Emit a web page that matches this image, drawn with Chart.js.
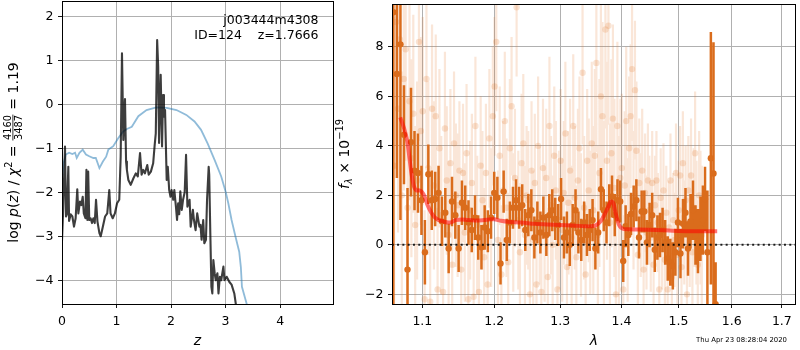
<!DOCTYPE html>
<html><head><meta charset="utf-8">
<script src="https://cdn.jsdelivr.net/npm/chart.js@4.4.0/dist/chart.umd.min.js"></script>
<style>
html,body{margin:0;padding:0;background:#fff;}
#wrap{position:relative;width:800px;height:350px;overflow:hidden;}
#c1{position:absolute;left:0;top:0;}
#c2{position:absolute;left:330px;top:0;}
</style></head><body>
<div id="wrap"><canvas id="c1" width="340" height="350"></canvas><canvas id="c2" width="470" height="350"></canvas></div>
<script>
// ---------------- LEFT PANEL DATA ----------------
const pzZ = [0.00,0.02,0.055,0.073,0.09,0.116,0.13,0.16,0.19,0.22,0.25,0.28,0.30,0.33,0.355,0.38,0.40,0.43,0.448,0.465,0.48,0.50,0.525,0.55,0.575,0.60,0.624,0.65,0.686,0.71,0.75,0.79,0.83,0.867,0.89,0.93,0.97,1.01,1.05,1.076,1.10,1.125,1.155,1.175,1.19,1.217,1.26,1.31,1.353,1.39,1.431,1.46,1.49,1.52,1.564,1.59,1.63,1.672,1.70,1.72,1.745,1.764,1.78,1.81,1.835,1.853,1.87,1.89,1.92,1.94,1.966,1.99,2.01,2.04,2.06,2.09,2.11,2.13,2.15,2.17,2.196,2.22,2.25,2.275,2.30,2.34,2.36,2.40,2.42,2.45,2.48,2.52,2.54,2.56,2.59,2.61,2.64,2.66,2.69,2.70,2.72,2.74,2.757,2.776,2.80,2.82,2.85,2.87,2.895,2.92,2.96,2.98,3.02,3.07,3.11,3.16,3.19,3.23];
const pzLogP = [-3.10,-2.45,-0.96,-2.55,-2.50,-1.42,-2.65,-2.50,-2.55,-2.78,-2.59,-1.93,-2.48,-2.21,-2.29,-2.10,-2.48,-2.59,-1.49,-2.63,-1.53,-2.63,-2.59,-2.70,-2.59,-2.70,-2.17,-2.66,-2.93,-3.00,-2.78,-2.55,-2.48,-1.95,-2.48,-2.59,-2.48,-2.25,-2.17,-1.19,1.16,-0.81,0.12,-1.30,-1.49,-1.72,-1.83,-1.68,-1.57,-1.64,-1.11,-1.60,-1.49,-1.57,-1.38,-1.60,-1.53,-1.34,-0.92,-0.66,1.46,0.86,-0.88,0.67,-0.96,0.21,-0.28,-0.13,-1.72,-1.42,-1.95,-2.10,-1.95,-2.17,-1.95,-2.33,-2.63,-2.25,-2.50,-1.98,-2.40,-2.17,-2.00,-1.15,-2.33,-2.17,-2.78,-2.40,-2.63,-2.86,-2.48,-2.78,-2.74,-3.08,-2.63,-3.16,-3.08,-2.17,-1.42,-1.60,-2.93,-4.15,-4.30,-3.54,-3.84,-4.00,-3.84,-4.30,-3.92,-4.00,-3.69,-4.00,-3.92,-4.04,-4.10,-4.30,-4.56,-4.75];
const chiZ = [0.00,0.01,0.03,0.07,0.13,0.19,0.24,0.27,0.32,0.38,0.44,0.50,0.575,0.62,0.686,0.75,0.81,0.85,0.94,1.03,1.12,1.19,1.28,1.40,1.55,1.73,1.92,2.10,2.28,2.43,2.55,2.67,2.80,2.92,3.00,3.05,3.11,3.18,3.25,3.28,3.30,3.39,3.42];
const chiLogP = [-1.60,-1.57,-1.34,-1.14,-1.10,-1.13,-1.10,-1.22,-1.10,-1.03,-1.14,-1.18,-1.22,-1.22,-1.45,-1.30,-1.19,-1.03,-0.95,-0.77,-0.62,-0.56,-0.51,-0.27,-0.13,-0.07,-0.08,-0.13,-0.24,-0.39,-0.58,-0.89,-1.27,-1.64,-1.98,-2.25,-2.63,-3.00,-3.35,-3.70,-4.15,-4.55,-4.70];
const leftXTicks = [0,1,2,3,4];
const leftYTicks = [-4,-3,-2,-1,0,1,2];

// ---------------- RIGHT PANEL DATA ----------------
const darkLam = [1.0620,1.0666,1.0712,1.0758,1.0804,1.0850,1.0896,1.0942,1.0988,1.1034,1.1080,1.1126,1.1172,1.1218,1.1264,1.1310,1.1356,1.1402,1.1448,1.1494,1.1540,1.1586,1.1632,1.1678,1.1724,1.1770,1.1816,1.1862,1.1908,1.1954,1.2000,1.2046,1.2092,1.2138,1.2184,1.2230,1.2276,1.2322,1.2368,1.2414,1.2460,1.2506,1.2552,1.2598,1.2644,1.2690,1.2736,1.2782,1.2828,1.2874,1.2920,1.2966,1.3012,1.3058,1.3104,1.3150,1.3196,1.3242,1.3288,1.3334,1.3380,1.3426,1.3472,1.3518,1.3564,1.3610,1.3656,1.3702,1.3748,1.3794,1.3840,1.3886,1.3932,1.3978,1.4029,1.4070,1.4116,1.4162,1.4208,1.4254,1.4300,1.4346,1.4392,1.4438,1.4484,1.4530,1.4576,1.4622,1.4668,1.4714,1.4760,1.4806,1.4852,1.4898,1.4944,1.4990,1.5036,1.5082,1.5128,1.5174,1.5220,1.5266,1.5312,1.5358,1.5404,1.5450,1.5490,1.5535,1.5600,1.5650,1.5690];
const darkFlux = [9.4,6.9,8.1,4.45,-1.0,4.15,3.0,2.9,1.8,-0.3,2.85,1.8,1.85,2.1,0.95,1.3,-0.15,1.75,1.2,-0.15,1.7,1.5,0.9,0.6,1.1,0.3,-0.1,0.7,0.55,1.1,2.1,1.9,-0.75,2.15,0.2,0.9,1.5,1.8,1.5,1.6,0.6,1.2,1.4,0.3,0.9,0.5,1.1,0.4,1.2,1.4,1.05,0.8,1.85,0.3,0.5,0.0,0.8,1.4,0.5,0.2,0.9,0.4,0.6,1.0,-0.15,0.5,2.25,1.4,0.9,1.6,1.95,1.2,1.8,1.75,-0.65,0.75,0.4,1.25,1.55,1.8,0.3,1.35,1.35,0.1,0.8,1.2,-0.2,0.3,0.4,0.6,0.1,-0.55,-0.7,-0.85,-0.3,0.9,-0.35,0.85,1.3,-0.15,0.95,1.4,0.4,0.15,0.65,1.0,1.85,-0.3,3.5,2.88,-2.4];
const darkErr = [12,4.2,7.1,2.0,3.3,2.2,1.6,1.6,1.4,1.3,1.2,1.2,1.1,1.1,1.0,1.0,1.0,1.0,0.95,0.95,0.9,0.9,0.9,0.9,0.9,0.9,0.9,0.9,0.85,0.85,0.85,0.85,0.85,0.85,0.85,0.85,0.85,0.85,0.85,0.85,0.85,0.85,0.85,0.85,0.85,0.85,0.85,0.85,0.85,0.85,0.85,0.85,0.85,0.85,0.85,0.85,0.85,0.85,0.85,0.85,0.85,0.85,0.85,0.85,0.85,0.85,0.85,0.85,0.85,0.85,0.85,0.85,0.85,0.85,0.85,0.85,0.85,0.85,0.85,0.85,0.85,0.85,0.85,0.9,0.9,0.9,0.9,0.9,0.9,0.9,0.9,0.9,0.95,0.95,0.95,1.0,1.0,1.0,1.0,1.1,1.1,1.2,1.2,1.3,1.3,1.4,1.3,2.5,5.1,5.3,1.7];

const faintLam = [1.0630,1.0655,1.0680,1.0705,1.0730,1.0755,1.0780,1.0805,1.0830,1.0855,1.0880,1.0905,1.0930,1.0955,1.0980,
1.1005,1.1030,1.1055,1.1080,1.1105,1.1130,1.1155,1.1180,1.1205,1.1230,1.1255,1.1280,1.1305,1.1330,1.1355,1.1380,1.1405,1.1430,1.1455,1.1480,
1.1505,1.1530,1.1555,1.1580,1.1605,1.1630,1.1655,1.1680,1.1705,1.1730,1.1755,1.1780,1.1805,1.1830,1.1855,1.1880,1.1905,1.1930,1.1955,1.1980,
1.2005,1.2030,1.2055,1.2080,1.2105,1.2130,1.2155,1.2180,1.2205,1.2230,1.2255,1.2280,1.2305,1.2330,1.2355,1.2380,1.2405,1.2430,1.2455,1.2480,
1.2505,1.2530,1.2555,1.2580,1.2605,1.2630,1.2655,1.2680,1.2705,1.2730,1.2755,1.2780,1.2805,1.2830,1.2855,1.2880,1.2905,1.2930,1.2955,1.2980,
1.3005,1.3030,1.3055,1.3080,1.3105,1.3130,1.3155,1.3180,1.3205,1.3230,1.3255,1.3280,1.3305,1.3330,1.3355,1.3380,1.3405,1.3430,1.3455,1.3480,
1.3505,1.3530,1.3555,1.3580,1.3605,1.3630,1.3655,1.3680,1.3705,1.3730,1.3755,1.3780,1.3805,1.3830,1.3855,1.3880,1.3905,1.3930,1.3955,1.3980,
1.4005,1.4030,1.4055,1.4080,1.4105,1.4130,1.4155,1.4180,1.4205,1.4230,1.4255,1.4280,1.4305,1.4330,1.4355,1.4380,1.4405,1.4430,1.4455,1.4480,
1.4505,1.4530,1.4555,1.4580,1.4605,1.4630,1.4655,1.4680,1.4705,1.4730,1.4755,1.4780,1.4805,1.4830,1.4855,1.4880,1.4905,1.4930,1.4955,1.4980,
1.5005,1.5030,1.5055,1.5080,1.5105,1.5130,1.5155,1.5180,1.5205,1.5230,1.5255,1.5280,1.5305,1.5330,1.5355,1.5380,1.5405,1.5430];
const faintFlux = [3.2,9.0,5.5,8.3,2.0,6.7,7.9,1.5,5.8,3.5,5.3,0.8,2.6,8.2,4.6,
5.4,-2.2,6.7,3.1,-2.3,5.5,2.4,5.2,-1.8,3.9,1.2,-1.9,4.7,2.6,0.4,3.3,-0.8,4.1,2.0,1.6,
3.0,-1.0,2.9,0.5,3.7,-2.2,1.4,2.5,-2.1,4.8,0.8,-1.9,3.2,1.8,-0.5,2.9,-1.6,4.3,1.1,5.2,
6.4,8.2,0.2,3.6,-1.2,2.2,5.0,1.5,-0.7,3.9,5.6,0.9,2.7,9.6,1.0,-0.3,3.3,4.1,0.4,2.0,
1.8,-2.0,3.0,0.2,2.5,-1.6,4.0,1.2,-1.9,3.1,0.5,2.7,-1.3,4.8,1.6,0.0,3.6,2.2,-1.8,1.0,
3.4,0.6,2.1,4.5,-0.9,1.7,3.0,0.3,4.8,1.9,-0.5,2.6,3.9,0.8,6.95,1.5,-1.2,3.4,2.2,0.9,
4.1,1.4,3.6,7.35,0.4,2.9,6.0,5.2,1.2,8.7,3.4,8.85,0.9,3.7,5.1,2.3,-2.0,4.8,1.0,2.7,
3.1,-1.8,2.4,5.0,0.6,3.9,5.2,7.1,1.8,6.25,3.8,-0.4,2.5,1.2,3.0,-1.0,2.1,0.5,2.6,1.4,
0.3,2.5,-0.8,1.6,2.6,0.9,-1.8,1.9,0.1,2.2,-0.6,1.3,-1.8,0.7,2.6,-1.3,1.0,0.2,2.9,-0.4,
1.4,2.8,-0.9,3.3,0.5,1.8,-2.0,2.2,0.6,2.8,-0.3,1.5,3.7,0.9,-0.8,2.0,1.1,0.4];
const faintErr = [6,5,5,5,5,4.5,4.5,4.5,4,4,4,4,4,4,3.8,
3.8,3.6,3.6,3.5,3.5,3.4,3.4,3.3,3.3,3.2,3.2,3.1,3.1,3.0,3.0,3.0,2.9,2.9,2.9,2.9,
2.8,2.8,2.8,2.8,2.8,2.8,2.8,2.8,2.8,2.8,2.8,2.8,2.8,2.8,2.8,2.8,2.8,2.8,2.8,2.8,
2.8,2.8,2.8,2.8,2.8,2.8,2.8,2.8,2.8,2.8,2.8,2.8,2.8,2.8,2.8,2.8,2.8,2.8,2.8,2.8,
2.8,2.8,2.8,2.8,2.8,2.8,2.8,2.8,2.8,2.8,2.8,2.8,2.8,2.8,2.8,2.8,2.8,2.8,2.8,2.8,
2.9,2.9,2.9,2.9,2.9,2.9,2.9,2.9,2.9,2.9,2.9,2.9,2.9,2.9,2.9,2.9,2.9,2.9,2.9,2.9,
3.3,3.4,3.5,3.6,3.6,3.8,3.8,3.8,3.8,4.0,4.0,4.0,4.0,3.8,3.8,3.6,3.6,3.4,3.4,3.2,
3.0,3.0,3.0,3.0,2.9,2.9,2.9,2.9,2.8,2.8,2.8,2.6,2.6,2.5,2.5,2.4,2.4,2.3,2.3,2.2,
2.2,2.1,2.1,2.0,2.0,2.0,2.0,2.0,1.9,1.9,1.9,1.9,1.9,1.9,1.9,1.9,1.9,1.9,2.0,2.0,
2.0,2.0,2.1,2.1,2.1,2.2,2.2,2.2,2.3,2.3,2.4,2.4,2.5,2.5,2.6,2.6,2.7,2.8];

const modelLam = [1.071,1.076,1.080,1.083,1.086,1.089,1.092,1.096,1.099,1.103,1.107,1.112,1.117,1.122,1.128,1.135,1.140,1.145,1.155,1.165,1.175,1.185,1.195,1.200,1.210,1.220,1.240,1.260,1.280,1.300,1.320,1.340,1.350,1.358,1.365,1.372,1.378,1.382,1.386,1.389,1.393,1.397,1.402,1.410,1.430,1.460,1.490,1.520,1.550,1.572];
const modelFlux = [5.15,4.7,4.2,3.5,2.8,2.35,2.2,2.2,2.15,1.95,1.6,1.3,1.1,1.0,0.95,0.9,0.92,1.0,1.02,1.0,0.98,1.0,1.03,1.03,0.97,0.93,0.9,0.85,0.82,0.8,0.78,0.75,0.75,0.8,0.95,1.25,1.55,1.75,1.7,1.4,1.0,0.75,0.65,0.63,0.62,0.6,0.57,0.55,0.55,0.55];
const zeroLam = [1.06,1.73];
const zeroFlux = [0,0];
const rightXTicks = [1.1,1.2,1.3,1.4,1.5,1.6,1.7];
const rightYTicks = [-2,0,2,4,6,8];

// ---------------- helpers ----------------
const FONT = 'DejaVu Sans';
const fmt = v => { const s = (Math.abs(v) < 1e-9 ? '0' : String(+v.toFixed(2))); return s.replace('-', '\u2212'); };
const pts = (xs, ys) => xs.map((x, i) => ({x: x, y: ys[i]}));
const errSegs = (xs, ys, es) => { const out = []; xs.forEach((x, i) => { out.push({x: x, y: ys[i] - es[i]}); out.push({x: x, y: ys[i] + es[i]}); out.push({x: x, y: null}); }); return out; };

function drawRuns(ctx, runs, x, y, angle) {
  ctx.save();
  ctx.translate(x, y); ctx.rotate(angle);
  let total = 0;
  runs.forEach(r => { ctx.font = r.font; r.w = r.frac ? Math.max(ctx.measureText(r.num).width, ctx.measureText(r.den).width) + 2 : ctx.measureText(r.t).width; total += r.w; });
  let cx = -total / 2;
  ctx.textBaseline = 'alphabetic'; ctx.fillStyle = '#000';
  runs.forEach(r => {
    ctx.font = r.font;
    if (r.frac) {
      ctx.textAlign = 'center';
      ctx.fillText(r.num, cx + r.w / 2, r.barY - 1.6);
      ctx.fillText(r.den, cx + r.w / 2, r.barY + 1.6 + r.cap);
      ctx.fillRect(cx + 0.5, r.barY - 0.4, r.w - 1, 0.8);
    } else {
      ctx.textAlign = 'left';
      ctx.fillText(r.t, cx, r.dy || 0);
    }
    cx += r.w;
  });
  ctx.restore();
}

function frameAndTicksScale(ticksArr, min, max, type, isX, fixedSize) {
  return {
    type: type, min: min, max: max, bounds: 'data',
    afterBuildTicks: s => { s.ticks = ticksArr.map(v => ({value: v})); },
    afterFit: s => { if (isX) s.height = fixedSize; else s.width = fixedSize; s.paddingTop = 0; s.paddingBottom = 0; s.paddingLeft = 0; s.paddingRight = 0; },
    grid: {color: '#b0b0b0', lineWidth: 1, tickColor: '#000', tickLength: 4, tickWidth: 0.9, drawTicks: true},
    border: {display: false},
    ticks: {color: '#000', font: {family: FONT, size: 12.5}, padding: isX ? 6.5 : 4.5, maxRotation: 0, minRotation: 0, autoSkip: false, callback: v => fmt(v)}
  };
}

const N14 = '14px "DejaVu Sans"', I14 = 'italic 14px "DejaVu Sans"', S10 = '9.8px "DejaVu Sans"', IS10 = 'italic 9.8px "DejaVu Sans"';

const leftPlugin = {
  id: 'leftDeco',
  afterDraw(chart) {
    const ctx = chart.ctx, a = chart.chartArea;
    ctx.save();
    ctx.strokeStyle = '#000'; ctx.lineWidth = 1;
    ctx.strokeRect(a.left + 0.5, a.top + 0.5, a.right - a.left, a.bottom - a.top);
    ctx.fillStyle = '#000';
    ctx.font = '12.5px "DejaVu Sans"'; ctx.textAlign = 'right'; ctx.textBaseline = 'alphabetic';
    ctx.fillText('j003444m4308', 318.5, 24);
    ctx.fillText('ID=124    z=1.7666', 318.5, 38.5);
    ctx.font = I14; ctx.textAlign = 'center';
    ctx.fillText('z', (a.left + a.right) / 2, 345);
    ctx.restore();
    drawRuns(ctx, [
      {t: 'log ', font: N14}, {t: 'p', font: I14}, {t: '(', font: N14}, {t: 'z', font: I14}, {t: ')', font: N14},
      {t: ' / ', font: N14}, {t: '\u03c7', font: I14}, {t: '2', font: S10, dy: -6}, {t: ' = ', font: N14},
      {frac: true, num: '4160', den: '3487', font: S10, barY: -4.6, cap: 7.1}, {t: ' = 1.19', font: N14}
    ], 17.5, (a.top + a.bottom) / 2, -Math.PI / 2);
  }
};

const rightPlugin = {
  id: 'rightDeco',
  afterDraw(chart) {
    const ctx = chart.ctx, a = chart.chartArea;
    ctx.save();
    ctx.strokeStyle = '#000'; ctx.lineWidth = 1;
    ctx.strokeRect(a.left + 0.5, a.top + 0.5, a.right - a.left - 1, a.bottom - a.top);
    ctx.fillStyle = '#000';
    ctx.font = I14; ctx.textAlign = 'center'; ctx.textBaseline = 'alphabetic';
    ctx.fillText('\u03bb', (a.left + a.right) / 2, 345);
    ctx.font = '6.9px "DejaVu Sans"'; ctx.textAlign = 'right';
    ctx.fillText('Thu Apr 23 08:28:04 2020', 787 - 330, 342);
    ctx.restore();
    drawRuns(ctx, [
      {t: 'f', font: I14}, {t: '\u03bb', font: IS10, dy: 3}, {t: ' \u00d7 10', font: N14}, {t: '\u221219', font: S10, dy: -6}
    ], 348.5 - 330, (a.top + a.bottom) / 2, -Math.PI / 2);
  }
};

Chart.defaults.font.family = FONT;
Chart.defaults.animation = false;

new Chart(document.getElementById('c1'), {
  type: 'line',
  data: {datasets: [
    {data: pts(pzZ, pzLogP), borderColor: 'rgba(0,0,0,0.76)', borderWidth: 2.1, pointRadius: 0, tension: 0, clip: 0, order: 1, borderJoinStyle: 'round'},
    {data: pts(chiZ, chiLogP), borderColor: 'rgba(31,119,180,0.5)', borderWidth: 1.8, pointRadius: 0, tension: 0, clip: 0, order: 2}
  ]},
  options: {
    responsive: false, animation: false, events: [],
    layout: {padding: {top: 1, right: 7, left: 0, bottom: 0}},
    plugins: {legend: {display: false}, tooltip: {enabled: false}},
    scales: {
      x: frameAndTicksScale(leftXTicks, 0, 4.97, 'linear', true, 46),
      y: frameAndTicksScale(leftYTicks, -4.54, 2.35, 'linear', false, 62)
    }
  },
  plugins: [leftPlugin]
});

const darkColor = 'rgb(218,108,28)';
new Chart(document.getElementById('c2'), {
  type: 'line',
  data: {datasets: [
    {data: pts(zeroLam, zeroFlux), borderColor: 'rgba(0,0,0,0.85)', borderWidth: 2, borderDash: [2, 3.3], pointRadius: 0, clip: 0, order: 1},
    {data: pts(modelLam, modelFlux), borderColor: 'rgba(255,0,0,0.55)', borderWidth: 4, pointRadius: 0, tension: 0.3, clip: 0, order: 2},
    {data: pts(darkLam, darkFlux), showLine: false, pointRadius: 3.2, pointBackgroundColor: darkColor, pointBorderWidth: 0, clip: 0, order: 3},
    {data: errSegs(darkLam, darkFlux, darkErr), borderColor: darkColor, borderWidth: 2.5, borderCapStyle: 'butt', pointRadius: 0, spanGaps: false, clip: 0, order: 4},
    {data: pts(faintLam, faintFlux), showLine: false, pointRadius: 3.2, pointBackgroundColor: 'rgba(225,115,35,0.2)', pointBorderWidth: 0, clip: 0, order: 5},
    {data: errSegs(faintLam, faintFlux, faintErr), borderColor: 'rgba(228,118,40,0.18)', borderWidth: 2.2, borderCapStyle: 'butt', pointRadius: 0, spanGaps: false, clip: 0, order: 6}
  ]},
  options: {
    responsive: false, animation: false, events: [],
    layout: {padding: {top: 1, right: 0, left: 0, bottom: 0}},
    plugins: {legend: {display: false}, tooltip: {enabled: false}},
    scales: {
      x: frameAndTicksScale(rightXTicks, 1.0603, 1.7294, 'logarithmic', true, 46),
      y: frameAndTicksScale(rightYTicks, -2.39, 9.73, 'linear', false, 62)
    }
  },
  plugins: [rightPlugin]
});
</script>
</body></html>
